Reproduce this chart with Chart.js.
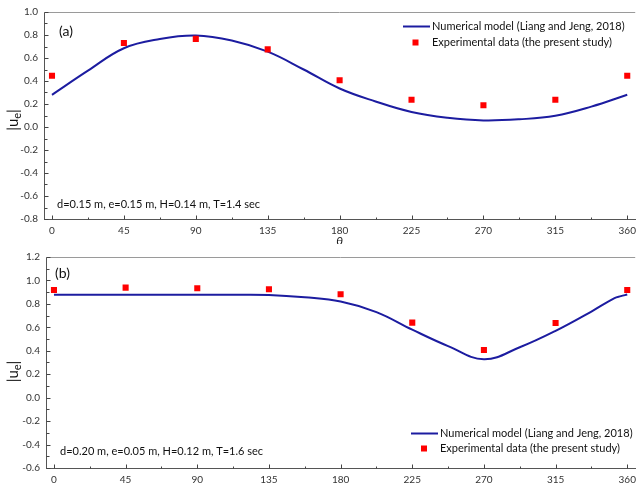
<!DOCTYPE html>
<html>
<head>
<meta charset="utf-8">
<script src="https://cdn.jsdelivr.net/npm/chart.js@4/dist/chart.umd.min.js"></script>
<style>
  html, body { margin: 0; padding: 0; background: #fff; }
  #wrap { position: relative; width: 642px; height: 488px; overflow: hidden; }
  canvas { position: absolute; left: 0; }
  #ca { top: 0; }
  #cb { top: 244px; }
</style>
</head>
<body>
<div id="wrap">
  <canvas id="ca" width="642" height="244"></canvas>
  <canvas id="cb" width="642" height="244"></canvas>
</div>
<script>
// ---------- data ----------
const thetaTicks = [0, 45, 90, 135, 180, 225, 270, 315, 360];
const thetaMinor = [22.5, 67.5, 112.5, 157.5, 202.5, 247.5, 292.5, 337.5];

// Panel (a)
const thetaLineA = [0, 22.5, 45, 67.5, 90, 112.5, 135, 157.5, 180, 202.5, 225, 247.5, 270, 292.5, 315, 337.5, 360];
const modelA     = [0.28, 0.49, 0.685, 0.765, 0.795, 0.752, 0.655, 0.50, 0.335, 0.222, 0.13, 0.08, 0.057, 0.067, 0.098, 0.177, 0.28];
const thetaExpA  = [0, 45, 90, 135, 180, 225, 270, 315, 360];
const expA       = [0.446, 0.73, 0.766, 0.675, 0.406, 0.237, 0.189, 0.237, 0.446];
const yTicksA    = [-0.8, -0.6, -0.4, -0.2, 0.0, 0.2, 0.4, 0.6, 0.8, 1.0];

// Panel (b)
const thetaLineB = [0, 22.5, 45, 67.5, 90, 112.5, 135, 157.5, 180, 202.5, 225, 247.5, 270, 292.5, 315, 337.5, 352, 356, 360];
const modelB     = [0.878, 0.878, 0.878, 0.878, 0.878, 0.878, 0.876, 0.856, 0.82, 0.73, 0.58, 0.44, 0.328, 0.43, 0.57, 0.735, 0.85, 0.866, 0.88];
const thetaExpB  = [0, 45, 90, 135, 180, 225, 270, 315, 360];
const expB       = [0.919, 0.939, 0.933, 0.925, 0.882, 0.64, 0.407, 0.637, 0.919];
const yTicksB    = [-0.6, -0.4, -0.2, 0.0, 0.2, 0.4, 0.6, 0.8, 1.0, 1.2];

const legendLine = 'Numerical model (Liang and Jeng, 2018)';
const legendExp  = 'Experimental data (the present study)';

const FONT = 'Lato, "Open Sans", sans-serif';
const BLUE = '#1c1ca0';
const RED = '#ff0000';

function pts(xs, ys) { return xs.map((v, i) => ({ x: v, y: ys[i] })); }

const deco = {
  id: 'deco',
  afterDraw(chart, args, o) {
    const { ctx, chartArea: a, scales: { x, y } } = chart;
    ctx.save();
    // top frame line
    ctx.strokeStyle = '#9a9a9a';
    ctx.lineWidth = 1;
    ctx.beginPath();
    ctx.moveTo(a.left, Math.round(a.top) + 0.5);
    ctx.lineTo(a.right, Math.round(a.top) + 0.5);
    ctx.stroke();
    // inward ticks
    ctx.strokeStyle = '#444';
    const xb = Math.round(a.bottom) + 0.5, yl = Math.round(a.left) + 0.5;
    const tick = (x1, y1, x2, y2) => { ctx.beginPath(); ctx.moveTo(x1, y1); ctx.lineTo(x2, y2); ctx.stroke(); };
    thetaTicks.forEach(v => { const p = Math.round(x.getPixelForValue(v)) + 0.5; tick(p, xb, p, xb - 4); });
    thetaMinor.forEach(v => { const p = Math.round(x.getPixelForValue(v)) + 0.5; tick(p, xb, p, xb - 2); });
    o.yTicks.forEach((v, i) => {
      const p = Math.round(y.getPixelForValue(v)) + 0.5;
      tick(yl, p, yl + 4, p);
      if (i < o.yTicks.length - 1) {
        const q = Math.round(y.getPixelForValue(v + 0.1)) + 0.5;
        tick(yl, q, yl + 3, q);
      }
    });
    // y title |u_e|
    ctx.fillStyle = '#111';
    ctx.save();
    ctx.translate(o.yTitle[0], o.yTitle[1]);
    ctx.rotate(-Math.PI / 2);
    ctx.font = '15px ' + FONT;
    ctx.textBaseline = 'middle';
    const w1 = ctx.measureText('|u').width;
    ctx.font = '11px ' + FONT;
    const w2 = ctx.measureText('e').width;
    ctx.font = '15px ' + FONT;
    const w3 = ctx.measureText('|').width;
    let sx = -(w1 + w2 + w3) / 2;
    ctx.textAlign = 'left';
    ctx.fillText('|u', sx, 0);
    ctx.font = '11px ' + FONT;
    ctx.fillText('e', sx + w1, 4);
    ctx.font = '15px ' + FONT;
    ctx.fillText('|', sx + w1 + w2, 0);
    ctx.restore();
    // panel label
    ctx.textAlign = 'left';
    ctx.textBaseline = 'middle';
    ctx.font = '14px ' + FONT;
    ctx.fillText(o.panel, o.panelPos[0], o.panelPos[1]);
    // parameters
    ctx.font = '11px ' + FONT;
    ctx.fillText(o.params, o.paramsPos[0], o.paramsPos[1]);
    // legend
    const L = o.legend;
    ctx.strokeStyle = BLUE;
    ctx.lineWidth = 2;
    tick(L.lineX0, L.y1, L.lineX1, L.y1);
    ctx.fillStyle = RED;
    ctx.fillRect(L.sqX - 3, L.y2 - 3, 6, 6);
    ctx.fillStyle = '#111';
    ctx.font = '11px ' + FONT;
    ctx.fillText(legendLine, L.textX, L.y1);
    ctx.fillText(legendExp, L.textX, L.y2);
    // x title
    if (o.xTitle) {
      ctx.font = 'italic 12px ' + FONT;
      ctx.textAlign = 'center';
      ctx.fillText('\u03B8', x.getPixelForValue(180), o.xTitle);
    }
    ctx.restore();
  }
};

function makeChart(id, cfg) {
  return new Chart(document.getElementById(id), {
    type: 'scatter',
    data: {
      datasets: [
        { label: legendExp, data: pts(cfg.thetaExp, cfg.exp), backgroundColor: RED, borderColor: RED,
          pointStyle: 'rect', pointRadius: 4.3, pointBorderWidth: 0, showLine: false, order: 0 },
        { label: legendLine, data: pts(cfg.thetaLine, cfg.model), borderColor: BLUE, backgroundColor: BLUE,
          showLine: true, pointRadius: 0, borderWidth: 2, tension: 0.4, order: 1 }
      ]
    },
    options: {
      responsive: false,
      animation: false,
      devicePixelRatio: 1,
      layout: { padding: { top: cfg.padTop, left: 0, right: 0, bottom: 0 } },
      plugins: {
        legend: { display: false },
        tooltip: { enabled: false },
        deco: cfg.deco
      },
      scales: {
        x: {
          type: 'linear', min: -5, max: 365,
          afterBuildTicks: s => { s.ticks = thetaTicks.map(v => ({ value: v })); },
          afterFit: s => { s.height = cfg.xH; },
          grid: { display: false, drawTicks: false },
          border: { display: true, color: '#555', width: 1 },
          ticks: { color: '#333', font: { family: FONT, size: 10 }, padding: 6, maxRotation: 0, autoSkip: false,
                   callback: v => String(v) }
        },
        y: {
          type: 'linear', min: cfg.yTicks[0], max: cfg.yTicks[cfg.yTicks.length - 1],
          afterBuildTicks: s => { s.ticks = cfg.yTicks.map(v => ({ value: v })); },
          afterFit: s => { s.width = cfg.yW; },
          grid: { display: false, drawTicks: false },
          border: { display: true, color: '#555', width: 1 },
          ticks: { color: '#333', font: { family: FONT, size: 10 }, padding: 6, autoSkip: false,
                   callback: v => Number(v).toFixed(1) }
        }
      }
    },
    plugins: [deco]
  });
}

makeChart('ca', {
  thetaLine: thetaLineA, model: modelA, thetaExp: thetaExpA, exp: expA, yTicks: yTicksA,
  padTop: 9, xH: 25, yW: 44,
  deco: {
    yTicks: yTicksA, yTitle: [13, 120], panel: '(a)', panelPos: [59, 31],
    params: 'd=0.15 m, e=0.15 m, H=0.14 m, T=1.4 sec', paramsPos: [57, 204],
    legend: { lineX0: 403, lineX1: 430, textX: 432, y1: 26.5, sqX: 415.5, y2: 42.5 },
    xTitle: 241
  }
});

makeChart('cb', {
  thetaLine: thetaLineB, model: modelB, thetaExp: thetaExpB, exp: expB, yTicks: yTicksB,
  padTop: 13, xH: 20, yW: 46,
  deco: {
    yTicks: yTicksB, yTitle: [13, 127.5], panel: '(b)', panelPos: [55, 29],
    params: 'd=0.20 m, e=0.05 m, H=0.12 m, T=1.6 sec', paramsPos: [60, 207.5],
    legend: { lineX0: 411, lineX1: 438, textX: 440, y1: 189.5, sqX: 424, y2: 204.5 },
    xTitle: null
  }
});
</script>
</body>
</html>
